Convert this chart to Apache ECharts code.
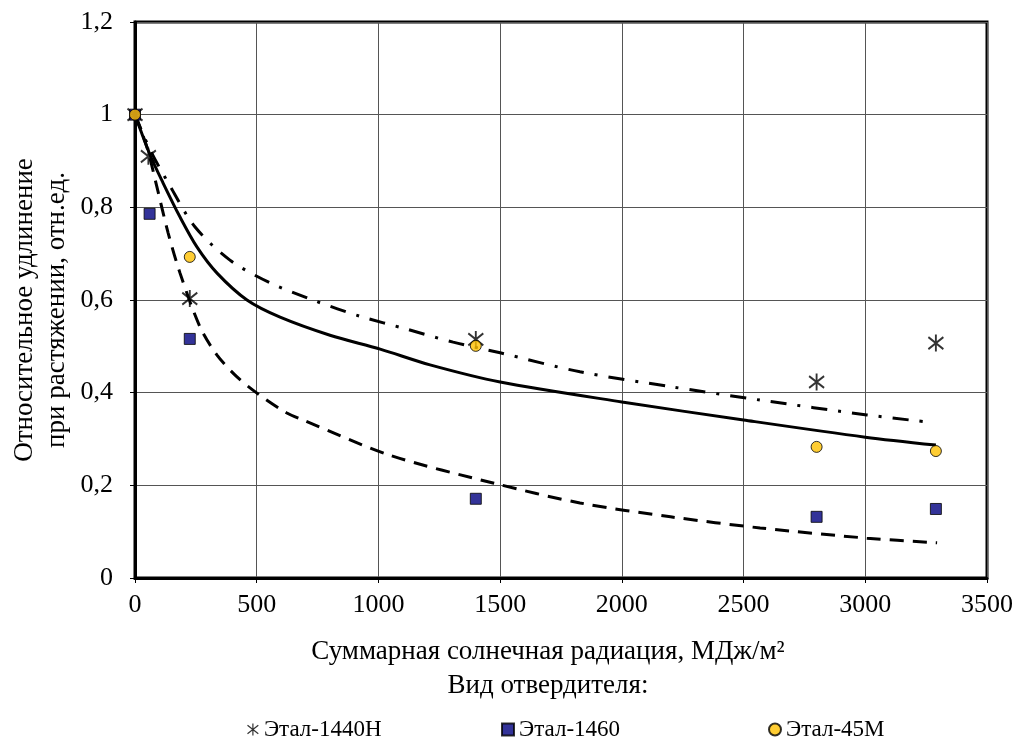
<!DOCTYPE html>
<html><head><meta charset="utf-8">
<script src="https://cdn.jsdelivr.net/npm/echarts@6/dist/echarts.min.js"></script>
<style>html,body{margin:0;padding:0;background:#fff}#c{width:1017px;height:746px}</style>
</head><body><div id="c"></div>
<script>
// Measured points
const xEtal1440H = [0, 55, 225, 1400, 2800, 3290];
const yEtal1440H = [1.0, 0.91, 0.603, 0.515, 0.423, 0.507];
const xEtal1460 = [0, 60, 225, 1400, 2800, 3290];
const yEtal1460 = [1.0, 0.786, 0.516, 0.171, 0.132, 0.149];
const xEtal45M = [0, 225, 1400, 2800, 3290];
const yEtal45M = [1.0, 0.693, 0.501, 0.283, 0.274];
// Trend lines
const xTrend1440H = [0, 62, 144, 246, 390, 555, 740, 924, 1117, 1307, 1500, 1828, 2200, 2568, 3007, 3250];
const yTrend1440H = [1.0, 0.924, 0.846, 0.758, 0.686, 0.637, 0.598, 0.565, 0.537, 0.509, 0.486, 0.445, 0.413, 0.384, 0.352, 0.337];
const xTrend1460 = [0, 49, 90, 136, 185, 267, 337, 419, 501, 624, 690, 1047, 1471, 1828, 2200, 2568, 3007, 3295];
const yTrend1460 = [1.0, 0.93, 0.844, 0.745, 0.658, 0.542, 0.481, 0.434, 0.399, 0.356, 0.341, 0.265, 0.205, 0.162, 0.132, 0.108, 0.086, 0.076];
const xTrend45M = [0, 62, 115, 185, 255, 337, 460, 596, 801, 1007, 1212, 1500, 2000, 2500, 3000, 3290];
const yTrend45M = [1.0, 0.913, 0.853, 0.779, 0.714, 0.658, 0.600, 0.563, 0.524, 0.494, 0.460, 0.423, 0.38, 0.341, 0.304, 0.287];
const seriesNames = ['Этал-1440H', 'Этал-1460', 'Этал-45M'];
const xAxisTitle = 'Суммарная солнечная радиация, МДж/м²';
const legendTitle = 'Вид отвердителя:';
const yAxisTitle = 'Относительное удлинение\nпри растяжении, отн.ед.';

const zip = (a, b) => a.map((v, i) => [v, b[i]]);
const FONT = 'Liberation Serif';
const starPath = 'path://M0,0L0,20M-9,3L9,17M-9,17L9,3';

const chart = echarts.init(document.getElementById('c'));
const legendBase = {
  bottom: 0, itemWidth: 12, itemHeight: 12, itemGap: 4,
  textStyle: {fontFamily: FONT, fontSize: 23, color: '#000'}
};
const trendBase = {type: 'line', smooth: 0.3, showSymbol: false, silent: true, z: 2};
chart.setOption({
  animation: false,
  grid: {left: 135, right: 30, top: 22, bottom: 168, show: true, borderColor: '#000', borderWidth: 3},
  xAxis: {
    type: 'value', min: 0, max: 3500, interval: 500,
    axisLine: {show: true, lineStyle: {color: '#000', width: 3}},
    axisTick: {show: true, length: 5, lineStyle: {color: '#000'}},
    axisLabel: {fontFamily: FONT, fontSize: 26, color: '#000', margin: 14, formatter: v => String(v)},
    splitLine: {show: true, lineStyle: {color: '#555', width: 1}}
  },
  yAxis: {
    type: 'value', min: 0, max: 1.2, interval: 0.2,
    axisLine: {show: true, lineStyle: {color: '#000', width: 3}},
    axisTick: {show: true, length: 5, lineStyle: {color: '#000'}},
    axisLabel: {fontFamily: FONT, fontSize: 26, color: '#000', margin: 22,
      formatter: v => String(Math.round(v * 10) / 10).replace('.', ',')},
    splitLine: {show: true, lineStyle: {color: '#555', width: 1}}
  },
  legend: [
    Object.assign({}, legendBase, {left: 240, data: [{name: seriesNames[0], icon: starPath, itemStyle: {color: 'none', borderColor: '#000', borderWidth: 1.2}}]}),
    Object.assign({}, legendBase, {left: 496, data: [{name: seriesNames[1], icon: 'rect'}]}),
    Object.assign({}, legendBase, {left: 763, data: [{name: seriesNames[2], icon: 'circle'}]})
  ],
  graphic: [
    {type: 'text', x: 548, y: 652, style: {text: xAxisTitle, font: '27px "Liberation Serif"', fill: '#000', textAlign: 'center', textVerticalAlign: 'middle'}},
    {type: 'text', x: 548, y: 686, style: {text: legendTitle, font: '27px "Liberation Serif"', fill: '#000', textAlign: 'center', textVerticalAlign: 'middle'}},
    {type: 'text', x: 41, y: 310, rotation: Math.PI / 2, style: {text: yAxisTitle, font: '27px "Liberation Serif"', lineHeight: 32, fill: '#000', textAlign: 'center', textVerticalAlign: 'middle'}}
  ],
  series: [
    Object.assign({}, trendBase, {name: 't1440', data: zip(xTrend1440H, yTrend1440H),
      lineStyle: {color: '#000', width: 3, type: [16, 11, 3, 11]}}),
    Object.assign({}, trendBase, {name: 't1460', data: zip(xTrend1460, yTrend1460),
      lineStyle: {color: '#000', width: 3, type: [14, 9]}}),
    Object.assign({}, trendBase, {name: 't45', data: zip(xTrend45M, yTrend45M),
      lineStyle: {color: '#000', width: 3}}),
    {name: seriesNames[0], type: 'scatter', data: zip(xEtal1440H, yEtal1440H), symbol: starPath, symbolSize: [15, 17],
      itemStyle: {color: 'none', borderColor: '#000', borderWidth: 2}, z: 3},
    {name: seriesNames[1], type: 'scatter', data: zip(xEtal1460, yEtal1460), symbol: 'rect', symbolSize: 11,
      itemStyle: {color: '#000080', borderColor: '#000', borderWidth: 1}, z: 4},
    {name: seriesNames[2], type: 'scatter', data: zip(xEtal45M, yEtal45M), symbol: 'circle', symbolSize: 11,
      itemStyle: {color: '#FFC000', borderColor: '#000', borderWidth: 1}, z: 5}
  ]
});
</script></body></html>
